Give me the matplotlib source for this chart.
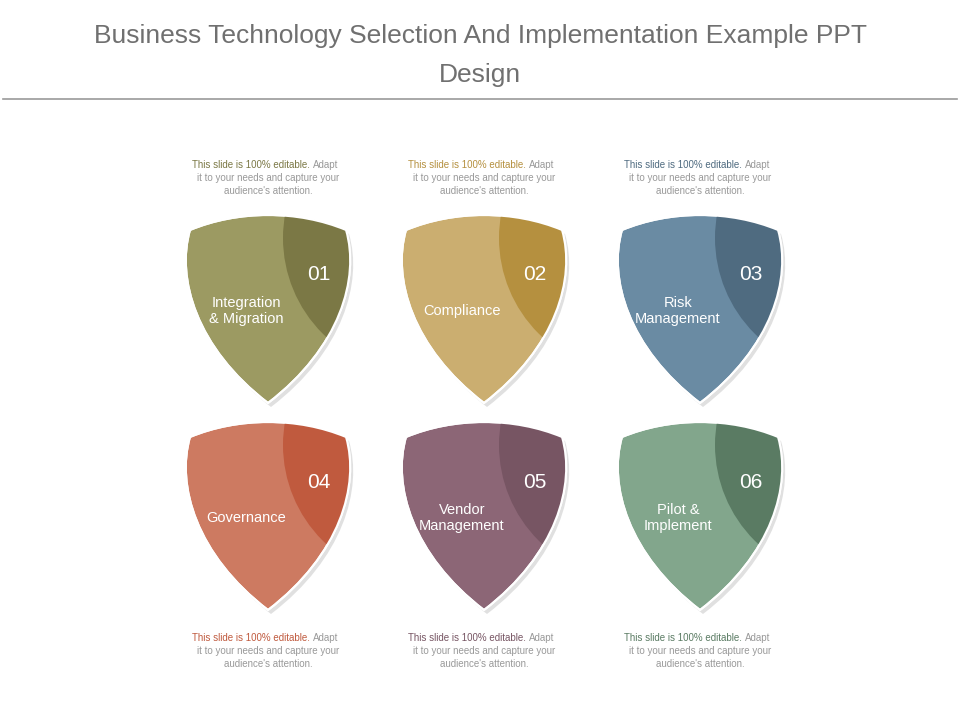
import matplotlib
matplotlib.use("Agg")
import matplotlib.pyplot as plt
from matplotlib.path import Path
from matplotlib.patches import PathPatch, Circle

numbers = ["01", "02", "03", "04", "05", "06"]
labels = ["Integration\n& Migration", "Compliance", "Risk\nManagement",
          "Governance", "Vendor\nManagement", "Pilot &\nImplement"]
main_colors = ["#9c9a62", "#cbae70", "#6a8ba3", "#cd7a61", "#8c6676", "#82a68c"]
dark_colors = ["#7b7845", "#b5903f", "#4f6b80", "#c05a3e", "#775563", "#5a7b63"]
accent_colors = ["#7b7845", "#b5903f", "#4f6b80", "#c05a3e", "#775563", "#5a7b63"]
col_x = [268, 484, 700]
row_top = [218, 425]

fig = plt.figure(figsize=(9.6, 7.2), dpi=100)
ax = fig.add_axes([0, 0, 1, 1])
ax.set_xlim(0, 960)
ax.set_ylim(720, 0)
ax.axis("off")

ax.text(480, 36, "Business Technology Selection And Implementation Example PPT",
        ha="center", va="center", fontsize=19, color="#707070", family="Liberation Sans")
ax.text(480, 75, "Design", ha="center", va="center", fontsize=19, color="#707070",
        family="Liberation Sans")
ax.plot([3, 957], [99, 99], color="#9a9a9a", lw=1.2)

def shield(cx, ty, dx=0, dy=0):
    cx += dx; ty += dy
    verts = [(cx - 78, ty + 12),
             (cx - 30, ty - 8), (cx + 30, ty - 8), (cx + 78, ty + 12),
             (cx + 92, ty + 60), (cx + 72, ty + 130), (cx, ty + 185),
             (cx - 72, ty + 130), (cx - 92, ty + 60), (cx - 78, ty + 12),
             (cx - 78, ty + 12)]
    codes = [Path.MOVETO] + [Path.CURVE4] * 9 + [Path.CLOSEPOLY]
    return Path(verts, codes)

for i in range(6):
    cx = col_x[i % 3]
    ty = row_top[i // 3]
    ax.add_patch(PathPatch(shield(cx, ty, 3, 4), fc="#cccccc", ec="none", alpha=0.6))
    sp = PathPatch(shield(cx, ty), fc=main_colors[i], ec="white", lw=1.5)
    ax.add_patch(sp)
    c = Circle((cx + 150, ty + 20), 135, fc=dark_colors[i], ec="none")
    ax.add_patch(c)
    c.set_clip_path(sp)
    ax.add_patch(PathPatch(shield(cx, ty), fc="none", ec="white", lw=1.5))
    ax.text(cx + 51, ty + 57, numbers[i], ha="center", va="center", fontsize=15,
            color="white", family="Liberation Sans")
    ax.text(cx - 22, ty + 93, labels[i], ha="center", va="center", fontsize=10.5,
            color="white", family="Liberation Sans", linespacing=1.1)
    dy0 = 165 if i < 3 else 638
    ax.text(cx + 42, dy0, "This slide is 100% editable.", ha="right", va="center",
            fontsize=7, color=accent_colors[i], family="Liberation Sans")
    ax.text(cx + 45, dy0, "Adapt", ha="left", va="center", fontsize=7,
            color="#999999", family="Liberation Sans")
    ax.text(cx, dy0 + 13, "it to your needs and capture your", ha="center", va="center",
            fontsize=7, color="#999999", family="Liberation Sans")
    ax.text(cx, dy0 + 26, "audience's attention.", ha="center", va="center",
            fontsize=7, color="#999999", family="Liberation Sans")

fig.savefig("out.png", dpi=100)
